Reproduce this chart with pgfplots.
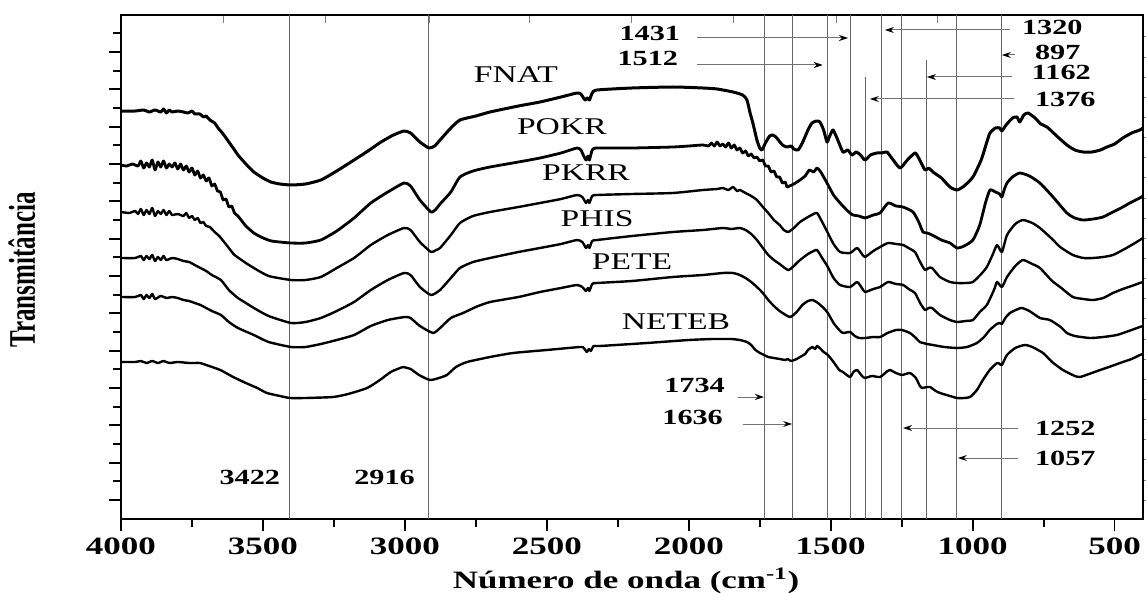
\documentclass[border=0pt]{standalone}
\usepackage{fontspec}
\setmainfont{Liberation Serif}[FakeStretch=1.4]
\newfontfamily\plainserif{Liberation Serif}
\usepackage{pgfplots}
\pgfplotsset{compat=1.18}
\usetikzlibrary{arrows.meta}

\pgfplotsset{
  spec/.style={black, line width=1.2pt, line join=round, smooth, tension=0.35},
  vline/.style={black!60, line width=0.55pt},
  frame/.style={scale only axis, width=511pt, height=252pt,
    x dir=reverse, xmin=400, xmax=4000, y dir=reverse, ymin=15, ymax=519},
}
\tikzset{
  ann/.style={black!55, line width=0.5pt, -{Stealth[length=4.5pt,width=3pt,black]}},
  num/.style={font=\fontsize{10.8}{12}\selectfont\bfseries},
  sname/.style={font=\fontsize{12}{14}\selectfont},
}

\begin{document}
\begin{tikzpicture}
% top ticks (separate scale in the source figure)
\begin{axis}[frame, axis x line*=top, hide y axis, tick align=inside,
  xtick={3641,3281,2915,2563,2204,1844,1481,1126}, xticklabels={},
  major tick length=4pt, axis line style={line width=1pt}]
\end{axis}
% right ticks
\begin{axis}[frame, axis y line*=right, hide x axis, tick align=outside,
  ytick={36.7,56.8,77.0,97.1,117.3,137.4,157.5,177.7,197.8,218.0,238.1,258.2,278.4,298.5,318.7,338.8,358.9,379.1,399.2,419.4,439.5,459.6,479.8,499.9},
  yticklabels={}, major tick length=4pt, axis line style={line width=1pt}]
\end{axis}
\begin{axis}[frame, clip=false,
  axis line style={line width=1pt},
  tick style={line width=0.9pt, black},
  tick align=outside, xtick pos=left, ytick pos=left,
  xtick={500,1000,...,4000}, minor x tick num=1,
  ytick={52,89.33,126.67,164,201.33,238.67,276,313.33,350.67,388,425.33,462.67,500},
  minor ytick={33.33,70.67,108,145.33,182.67,220,257.33,294.67,332,369.33,406.67,444,481.33},
  yticklabels={},
  major tick length=6pt, minor tick length=4pt,
  /pgf/number format/assume math mode=true,
  /pgf/number format/1000 sep={},
  xticklabel style={font=\fontsize{12.5}{14}\selectfont\bfseries},
]
\coordinate (ll) at (axis cs:4000,519);
\coordinate (ur) at (axis cs:400,15);

\pgfplotsinvokeforeach{3405,2916,1734,1636,1512,1431,1320,1252,1057,897}{
  \addplot[vline] coordinates {(#1,15) (#1,519)};
}
\addplot[vline] coordinates {(1376,77) (1376,519)};
\addplot[vline] coordinates {(1162,60) (1162,519)};

% FNAT
\addplot[spec, line width=1.5pt] table {
4000 111
3950 111
3920 110
3900 112
3880 110
3860 112
3850 109
3840 113
3830 110
3820 112
3800 111
3780 112
3764 113
3750 111
3740 114
3722 114
3710 117
3700 116
3687 120
3670 123
3658 128
3640 134
3620 142
3600 150
3588 155
3560 164
3532 172
3500 178
3472 182
3440 184
3401 185
3350 184
3296 180
3240 171
3179 160
3130 151
3084 142
3040 135
3003 131
2980 133
2947 142
2915 148
2895 146
2876 140
2838 128
2806 120
2750 116
2700 112
2600 106
2524 102
2450 97
2394 93
2380 94
2373 97
2365 100
2358 98
2350 100
2340 93
2323 90
2200 88
2056 87
1950 88
1900 89
1844 92
1810 95
1795 100
1784 113
1777 120
1770 128
1760 140
1750 148
1742 150
1730 143
1715 136
1703 135
1690 138
1670 145
1654 147
1640 146
1630 149
1615 150
1600 143
1580 130
1566 123
1550 121
1538 122
1525 130
1513 142
1505 137
1492 130
1478 138
1457 152
1440 150
1425 155
1410 152
1395 155
1379 160
1360 155
1337 153
1320 153
1302 152
1285 158
1256 168
1230 160
1203 153
1190 158
1168 170
1155 168
1140 172
1110 178
1080 187
1055 190
1030 186
999 177
970 160
950 142
939 133
920 128
905 128
897 131
885 126
860 118
844 117
834 122
820 115
805 113
780 118
760 124
738 127
700 137
668 145
640 150
611 152
580 152
550 150
527 147
500 144
471 138
440 133
411 130
400 128
};

% POKR
\addplot[spec, line width=1.4pt] table {
4000 165
3980 166
3960 164
3940 166
3930 161
3920 168
3910 163
3900 167
3890 160
3880 170
3870 162
3860 167
3850 161
3840 168
3830 164
3820 167
3810 163
3800 169
3790 164
3780 170
3770 166
3760 172
3750 168
3740 175
3730 171
3720 178
3710 175
3700 181
3690 178
3680 186
3670 184
3660 191
3650 192
3640 200
3630 199
3620 207
3610 206
3600 213
3588 216
3560 226
3532 233
3507 237
3470 241
3401 243
3350 243
3296 240
3240 231
3179 218
3120 203
3060 192
3003 183
2980 186
2947 200
2908 212
2890 209
2876 204
2838 192
2806 177
2760 171
2700 167
2600 162
2524 158
2450 153
2394 148
2380 150
2370 156
2362 160
2355 156
2350 160
2340 150
2323 148
2200 148
2056 147
2000 146
1950 145
1930 146
1920 143
1910 146
1900 142
1890 146
1880 144
1870 147
1860 143
1850 148
1840 145
1830 150
1820 148
1810 153
1800 151
1790 156
1780 154
1770 158
1760 157
1750 161
1739 160
1730 166
1720 166
1710 172
1700 171
1690 177
1680 177
1670 183
1660 182
1654 187
1645 186
1630 184
1608 180
1590 176
1575 170
1560 172
1548 168
1535 172
1513 183
1490 195
1467 203
1440 211
1422 215
1400 216
1379 218
1350 215
1326 213
1298 203
1270 206
1245 207
1210 212
1190 222
1175 232
1160 233
1143 235
1110 240
1080 243
1055 248
1030 246
999 240
975 225
955 203
939 190
920 192
905 194
897 197
888 189
879 183
860 177
834 173
800 176
763 183
720 196
668 213
640 218
611 220
575 219
541 217
506 212
471 207
440 202
411 198
400 196
};

% PKRR
\addplot[spec] table {
4000 212
3970 213
3950 211
3940 214
3930 209
3920 215
3910 210
3900 214
3890 208
3880 216
3870 211
3860 214
3850 210
3840 215
3830 211
3820 215
3800 214
3780 216
3770 213
3760 218
3750 216
3740 220
3730 218
3720 223
3710 222
3700 226
3687 227
3670 232
3658 235
3648 238
3620 248
3600 255
3560 263
3532 268
3480 276
3401 280
3350 280
3296 277
3240 268
3179 258
3120 245
3060 235
3003 228
2980 230
2947 242
2908 252
2890 250
2876 248
2838 235
2806 223
2760 216
2700 212
2600 207
2524 203
2450 199
2394 195
2375 197
2362 203
2355 200
2350 203
2340 196
2323 195
2200 194
2056 193
1950 190
1900 189
1880 188
1860 190
1844 187
1830 191
1820 190
1800 193
1780 196
1760 200
1739 207
1720 213
1700 220
1680 225
1665 230
1650 232
1630 228
1608 222
1580 217
1560 214
1548 213
1530 222
1510 233
1490 244
1467 252
1432 253
1407 248
1390 254
1379 257
1350 251
1326 247
1298 243
1270 244
1245 245
1220 249
1203 252
1185 262
1168 270
1155 268
1143 268
1115 277
1080 282
1055 283
1025 283
999 282
970 274
950 267
930 255
914 245
897 252
879 235
850 224
823 220
790 223
763 228
720 239
692 247
647 255
610 258
576 258
540 257
506 255
471 250
440 245
411 240
400 238
};

% PHIS
\addplot[spec] table {
4000 258
3950 258
3930 256
3920 260
3910 256
3900 259
3890 255
3880 261
3870 257
3860 260
3850 256
3840 260
3820 258
3800 259
3780 261
3760 262
3740 265
3720 268
3700 271
3680 275
3648 280
3620 290
3588 298
3560 303
3532 308
3480 316
3401 323
3350 322
3296 318
3240 311
3179 302
3120 290
3060 280
3003 273
2980 275
2947 287
2908 295
2876 290
2838 278
2806 268
2760 262
2700 258
2600 252
2524 248
2450 244
2394 240
2375 242
2362 248
2355 245
2350 248
2340 241
2323 240
2200 236
2056 232
1950 230
1880 228
1850 229
1820 228
1800 230
1780 234
1760 240
1739 248
1720 255
1700 260
1680 264
1650 270
1630 266
1608 260
1580 254
1560 251
1548 250
1530 258
1510 267
1490 278
1467 285
1432 287
1407 282
1390 288
1379 292
1350 289
1326 287
1298 282
1270 284
1245 285
1220 290
1203 293
1185 303
1168 310
1155 308
1143 308
1115 315
1080 320
1055 322
1025 321
999 320
975 312
950 305
925 290
914 282
897 287
879 277
850 266
823 260
790 264
763 268
720 281
692 287
647 297
610 299
576 300
540 298
506 293
471 289
440 286
411 283
400 282
};

% PETE
\addplot[spec] table {
4000 297
3950 297
3930 295
3920 299
3910 295
3900 298
3890 294
3880 299
3860 296
3840 298
3820 297
3800 298
3780 300
3760 301
3740 303
3720 305
3700 308
3680 311
3648 315
3620 322
3588 328
3532 335
3480 342
3401 347
3350 347
3296 344
3240 340
3179 335
3120 326
3060 320
3000 317
2980 318
2947 326
2901 333
2876 328
2838 318
2795 313
2750 307
2700 302
2600 297
2524 292
2450 288
2394 285
2375 287
2362 291
2355 288
2350 291
2340 284
2323 283
2200 281
2056 277
1950 275
1880 273
1844 273
1820 275
1800 278
1780 282
1760 287
1739 293
1720 300
1700 306
1680 311
1644 317
1620 312
1600 305
1580 301
1563 300
1545 303
1525 308
1510 313
1490 323
1470 330
1457 333
1432 332
1415 336
1400 338
1379 338
1350 337
1326 337
1300 333
1291 332
1270 330
1249 330
1221 333
1200 338
1186 342
1160 344
1140 345
1100 347
1055 348
1020 347
985 343
960 337
940 330
928 327
915 324
904 323
897 324
885 318
869 313
840 309
826 308
800 311
763 318
728 320
690 327
668 333
640 336
587 338
540 337
492 335
450 331
411 327
400 326
};

% NETEB
\addplot[spec] table {
4000 362
3950 362
3930 361
3910 363
3890 361
3870 363
3850 361
3830 363
3800 362
3760 363
3722 363
3700 365
3650 370
3605 377
3560 383
3520 388
3486 393
3440 396
3405 398
3350 398
3253 397
3200 394
3133 388
3088 380
3050 372
3017 368
3007 367
2980 369
2950 375
2912 380
2880 378
2852 375
2820 367
2781 362
2700 357
2619 353
2500 350
2383 347
2370 348
2359 352
2352 349
2345 351
2335 346
2313 346
2147 343
2000 340
1915 339
1880 339
1850 339
1820 340
1795 342
1780 345
1765 350
1749 353
1735 355
1720 357
1700 358
1680 359
1660 360
1651 359
1640 361
1620 359
1608 357
1590 354
1580 350
1565 347
1555 349
1548 346
1535 349
1525 352
1510 355
1490 362
1470 370
1457 372
1432 377
1420 372
1407 370
1390 376
1379 378
1355 376
1326 377
1300 371
1291 370
1270 373
1249 375
1221 373
1200 378
1186 386
1179 388
1160 387
1150 387
1130 391
1115 393
1080 396
1055 398
1030 398
1009 397
985 390
964 380
940 370
914 363
904 364
897 365
879 355
850 348
816 345
790 347
752 353
720 362
682 370
640 376
622 377
590 374
551 370
520 367
481 363
440 359
411 355
400 354
};

% sample names
\node[sname] at (axis cs:2609,75) {FNAT};
\node[sname] at (axis cs:2447,127) {POKR};
\node[sname] at (axis cs:2362,173) {PKRR};
\node[sname] at (axis cs:2323,219) {PHIS};
\node[sname] at (axis cs:2200,262) {PETE};
\node[sname] at (axis cs:2045,322) {NETEB};

% band annotations
\node[num, anchor=east] at (axis cs:2006,33) {1431};
\draw[ann] (axis cs:1971,38) -- (axis cs:1439,38);
\node[num, anchor=east] at (axis cs:2013,58) {1512};
\draw[ann] (axis cs:1971,65) -- (axis cs:1528,65);
\node[num, anchor=west] at (axis cs:851,27) {1320};
\draw[ann] (axis cs:869,30) -- (axis cs:1309,30);
\node[num, anchor=west] at (axis cs:805,52) {897};
\draw[ann] (axis cs:851,55) -- (axis cs:897,55);
\node[num, anchor=west] at (axis cs:816,72) {1162};
\draw[ann] (axis cs:862,77) -- (axis cs:1161,77);
\node[num, anchor=west] at (axis cs:805,99) {1376};
\draw[ann] (axis cs:855,99) -- (axis cs:1362,99);
\node[num, anchor=east] at (axis cs:1848,385) {1734};
\draw[ann] (axis cs:1827,397) -- (axis cs:1735,397);
\node[num, anchor=east] at (axis cs:1855,417) {1636};
\draw[ann] (axis cs:1809,424) -- (axis cs:1636,424);
\node[num, anchor=west] at (axis cs:805,428) {1252};
\draw[ann] (axis cs:840,428) -- (axis cs:1245,428);
\node[num, anchor=west] at (axis cs:805,458) {1057};
\draw[ann] (axis cs:840,458) -- (axis cs:1052,458);
\node[num, anchor=east] at (axis cs:3415,477) {3422};
\node[num, anchor=east] at (axis cs:2940,477) {2916};

% axis titles
\node[anchor=base, font=\fontsize{12.5}{14}\selectfont\bfseries] at (axis cs:2221,588) {Número de onda (cm\textsuperscript{-1})};
\node[rotate=90, anchor=center] at (axis cs:4349,270) {\scalebox{1}[1.5]{\plainserif\bfseries\fontsize{12.5}{14}\selectfont Transmitância}};
\end{axis}
\pgfresetboundingbox
\path[use as bounding box] ([xshift=-60.5pt,yshift=-37pt]ll) rectangle ([xshift=1.5pt,yshift=7.5pt]ur);
\end{tikzpicture}
\end{document}
